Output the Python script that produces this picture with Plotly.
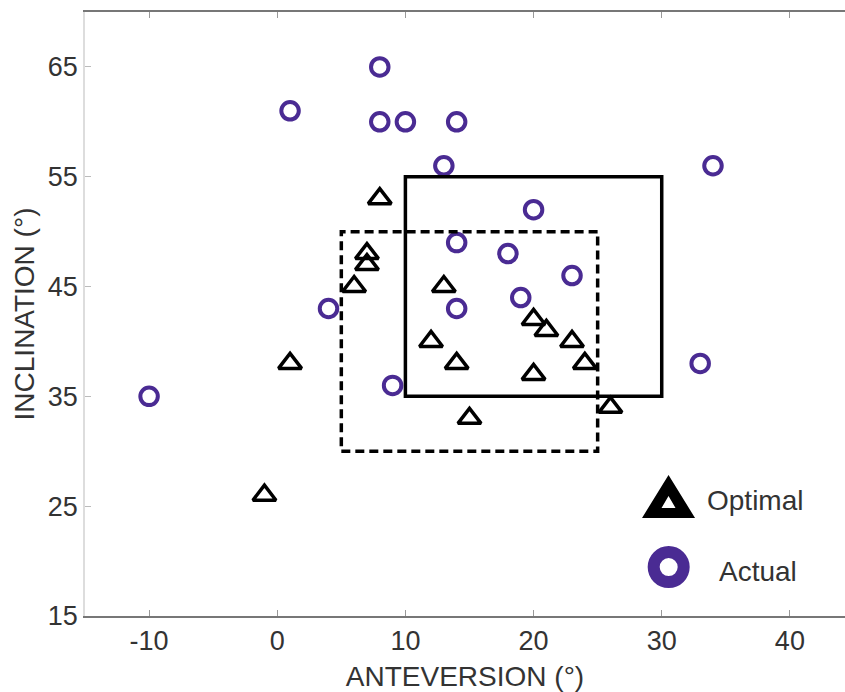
import plotly.graph_objects as go

# ---- data ----
optimal_x = [8, 7, 7, 6, 13, 12, 14, 1, 20, 21, 23, 24, 20, 15, 26, -1]
optimal_y = [53, 48, 47, 45, 45, 40, 38, 38, 42, 41, 40, 38, 37, 33, 34, 26]

actual_x = [-10, 1, 4, 8, 8, 10, 14, 13, 20, 14, 18, 23, 19, 14, 9, 33, 34]
actual_y = [35, 61, 43, 65, 60, 60, 60, 56, 52, 49, 48, 46, 44, 43, 36, 38, 56]

# target zones: [x0, x1, y0, y1]
solid_zone = [10, 30, 35, 55]
dashed_zone = [5, 25, 30, 50]

x_ticks = [-10, 0, 10, 20, 30, 40]
x_ticktext = ["-10", "0", "10", "20", "30", "40"]
y_ticks = [15, 25, 35, 45, 55, 65]
legend_labels = ["Optimal", "Actual"]

PURPLE = "#4a2b93"
FONT = "Liberation Sans"
TXT = "#333333"

fig = go.Figure()

fig.add_trace(go.Scatter(
    x=optimal_x, y=optimal_y, mode="markers", name="Optimal",
    marker=dict(symbol="triangle-up-open", size=20, color="black",
                line=dict(width=3.5, color="black")),
    showlegend=False, cliponaxis=False))
fig.add_trace(go.Scatter(
    x=actual_x, y=actual_y, mode="markers", name="Actual",
    marker=dict(symbol="circle-open", size=17.5, color=PURPLE,
                line=dict(width=4, color=PURPLE)),
    showlegend=False, cliponaxis=False))

# zone rectangles
fig.add_shape(type="rect", xref="x", yref="y",
              x0=solid_zone[0], x1=solid_zone[1], y0=solid_zone[2], y1=solid_zone[3],
              line=dict(color="black", width=3.5))
fig.add_shape(type="rect", xref="x", yref="y",
              x0=dashed_zone[0], x1=dashed_zone[1], y0=dashed_zone[2], y1=dashed_zone[3],
              line=dict(color="black", width=3.5, dash="9px,5px"))

# custom legend keys
fig.add_shape(type="path", xref="paper", yref="paper",
              xsizemode="pixel", ysizemode="pixel",
              xanchor=0.7678, yanchor=0.1623,
              path="M-26.5,0 L26.5,0 L0,43 Z M-7,10 L7,10 L0,22 Z",
              fillcolor="black", line=dict(width=0), layer="above")
fig.add_trace(go.Scatter(
    x=[0.768], y=[0.081], mode="markers", xaxis="x2", yaxis="y2",
    marker=dict(symbol="circle-open", size=30, color=PURPLE,
                line=dict(width=12, color=PURPLE)),
    showlegend=False, hoverinfo="skip"))

fig.add_annotation(x=0.816, y=0.192, xref="paper", yref="paper", text=legend_labels[0],
                   showarrow=False, xanchor="left", yanchor="middle",
                   font=dict(family=FONT, size=28, color=TXT))
fig.add_annotation(x=0.831, y=0.0745, xref="paper", yref="paper", text=legend_labels[1],
                   showarrow=False, xanchor="left", yanchor="middle",
                   font=dict(family=FONT, size=28, color=TXT))

fig.update_layout(
    width=845, height=692,
    margin=dict(l=85, r=0, t=12, b=76),
    plot_bgcolor="white", paper_bgcolor="white",
    font=dict(family=FONT, color=TXT),
    xaxis=dict(range=[-15, 44.3], tickvals=x_ticks, ticktext=x_ticktext,
               showgrid=False, zeroline=False, automargin=False,
               showline=True, linecolor="#777777", linewidth=1.5, mirror="ticks",
               ticks="inside", ticklen=6, tickcolor="#999999",
               tickfont=dict(family=FONT, size=27, color=TXT),
               title=dict(text="ANTEVERSION (°)", font=dict(family=FONT, size=28, color=TXT),
                          standoff=12)),
    yaxis=dict(range=[15, 70], tickvals=y_ticks, showgrid=False, zeroline=False,
               automargin=False,
               showline=True, linecolor="#dddddd", linewidth=1.5,
               ticks="inside", ticklen=6, tickcolor="#bbbbbb",
               tickfont=dict(family=FONT, size=27, color=TXT),
               title=dict(text="INCLINATION (°)", font=dict(family=FONT, size=28, color=TXT),
                          standoff=5)),
    xaxis2=dict(overlaying="x", range=[0, 1], visible=False),
    yaxis2=dict(overlaying="y", range=[0, 1], visible=False),
)

fig.write_html("out.html", config={"displayModeBar": False},
               post_script="document.body.style.margin='0';document.body.style.overflow='hidden';")
